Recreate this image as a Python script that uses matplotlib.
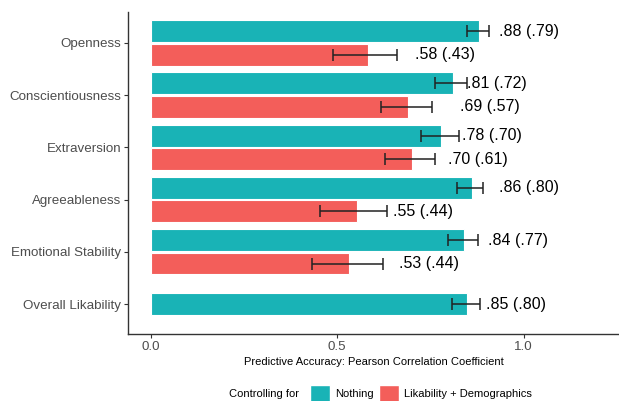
import matplotlib
matplotlib.use("Agg")
import matplotlib.pyplot as plt
from matplotlib.patches import Patch
import numpy as np

plt.rcParams["font.family"] = ["Liberation Sans", "DejaVu Sans"]

# -------- DATA --------
traits = ["Openness", "Conscientiousness", "Extraversion", "Agreeableness",
          "Emotional Stability", "Overall Likability"]

# controlling for nothing
nothing_r = [0.88, 0.81, 0.78, 0.862, 0.841, 0.849]
nothing_lo = [0.848, 0.762, 0.725, 0.822, 0.797, 0.809]
nothing_hi = [0.907, 0.849, 0.828, 0.891, 0.878, 0.884]
nothing_labels = [".88 (.79)", ".81 (.72)", ".78 (.70)", ".86 (.80)", ".84 (.77)", ".85 (.80)"]
nothing_label_x = [0.933, 0.849, 0.835, 0.933, 0.904, 0.899]

# controlling for likability + demographics (none for overall likability)
ctrl_r = [0.583, 0.69, 0.70, 0.553, 0.532]
ctrl_lo = [0.489, 0.617, 0.628, 0.454, 0.433]
ctrl_hi = [0.662, 0.754, 0.763, 0.635, 0.622]
ctrl_labels = [".58 (.43)", ".69 (.57)", ".70 (.61)", ".55 (.44)", ".53 (.44)"]
ctrl_label_x = [0.709, 0.83, 0.797, 0.649, 0.665]

teal = "#19B3B6"
red = "#F35E5A"


def main():
    fig = plt.figure(figsize=(6.19, 4.01), dpi=100)
    ax = fig.add_axes([0.207, 0.167, 0.793, 0.803])

    y = np.arange(len(traits))
    n_ctrl = len(ctrl_r)
    h = 0.42
    off = 0.225

    # teal bars: dodged up where there is a pair, centred otherwise
    y_teal = np.where(y < n_ctrl, y - off, y)
    y_red = y[:n_ctrl] + off

    ax.barh(y_teal, nothing_r, height=h, color=teal, edgecolor="white", linewidth=0.8)
    ax.barh(y_red, ctrl_r, height=h, color=red, edgecolor="white", linewidth=0.8)

    ekw = dict(fmt="none", ecolor="#222222", elinewidth=1.1, capsize=4.5, capthick=1.1)
    ax.errorbar(nothing_r, y_teal,
                xerr=[np.array(nothing_r) - nothing_lo, np.array(nothing_hi) - nothing_r], **ekw)
    ax.errorbar(ctrl_r, y_red,
                xerr=[np.array(ctrl_r) - ctrl_lo, np.array(ctrl_hi) - ctrl_r], **ekw)

    for xx, yy, s in zip(nothing_label_x, y_teal, nothing_labels):
        ax.text(xx, yy, s, ha="left", va="center", fontsize=11.5, color="black")
    for xx, yy, s in zip(ctrl_label_x, y_red, ctrl_labels):
        ax.text(xx, yy, s, ha="left", va="center", fontsize=11.5, color="black")

    ax.set_xlim(-0.060, 1.256)
    ax.set_ylim(5.575, -0.59)
    ax.set_yticks(y)
    ax.set_yticklabels(traits, fontsize=9.6, color="#4D4D4D")
    ax.set_xticks([0.0, 0.5, 1.0])
    ax.set_xticklabels(["0.0", "0.5", "1.0"], fontsize=9.6, color="#4D4D4D")
    ax.tick_params(length=3, width=0.8, color="#333333", pad=2)
    ax.set_xlabel("Predictive Accuracy: Pearson Correlation Coefficient", fontsize=8, labelpad=3)

    for side in ["top", "right"]:
        ax.spines[side].set_visible(False)
    for side in ["left", "bottom"]:
        ax.spines[side].set_color("#333333")
        ax.spines[side].set_linewidth(1.0)

    # legend at the bottom with the title on the left
    fig.text(0.37, 0.018, "Controlling for", fontsize=8, ha="left", va="center")
    handles = [Patch(facecolor=teal, edgecolor="white"), Patch(facecolor=red, edgecolor="white")]
    fig.legend(handles, ["Nothing", "Likability + Demographics"], ncol=2,
               loc="center left", bbox_to_anchor=(0.501, 0.018), frameon=False,
               fontsize=8, handlelength=1.8, handleheight=2.0, handletextpad=0.45,
               columnspacing=0.45, borderaxespad=0, borderpad=0)

    fig.savefig("out.png", dpi=100)


if __name__ == "__main__":
    main()
